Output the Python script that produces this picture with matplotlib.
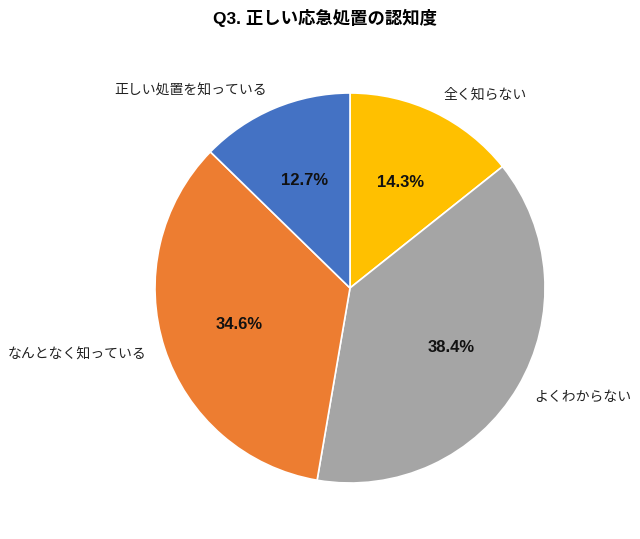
import matplotlib.pyplot as plt

plt.rcParams['font.family'] = ['Noto Sans CJK JP', 'DejaVu Sans']

# データ
categories = ["全く知らない", "よくわからない", "なんとなく知っている", "正しい処置を知っている"]
values = [14.3, 38.4, 34.6, 12.7]
colors = ["#FFC000", "#A5A5A5", "#ED7D31", "#4472C4"]

fig = plt.figure(figsize=(6.4, 5.39), dpi=100)
cx, cy, r = 350, 539 - 288, 195
ax = fig.add_axes([(cx - r) / 640, (cy - r) / 539, 2 * r / 640, 2 * r / 539])

wedges, texts, autotexts = ax.pie(
    values, labels=categories, colors=colors, startangle=90, counterclock=False,
    autopct="%.1f%%", pctdistance=0.6, labeldistance=1.1,
    wedgeprops=dict(edgecolor="white", linewidth=1.2),
    textprops=dict(fontsize=10, color="#222222"))
for t in autotexts:
    t.set_fontsize(12)
    t.set_fontweight("bold")
    t.set_fontfamily(["Liberation Sans", "DejaVu Sans"])
    t.set_color("#111111")
ax.set_xlim(-1, 1)
ax.set_ylim(-1, 1)
ax.set_aspect("equal")

fig.text(0.508, 1 - 18 / 539, "Q3. 正しい応急処置の認知度", ha="center", va="center",
         fontsize=12.5, fontweight="bold", family=["Liberation Sans", "Noto Sans CJK JP"])

plt.savefig("out.png", dpi=100)
